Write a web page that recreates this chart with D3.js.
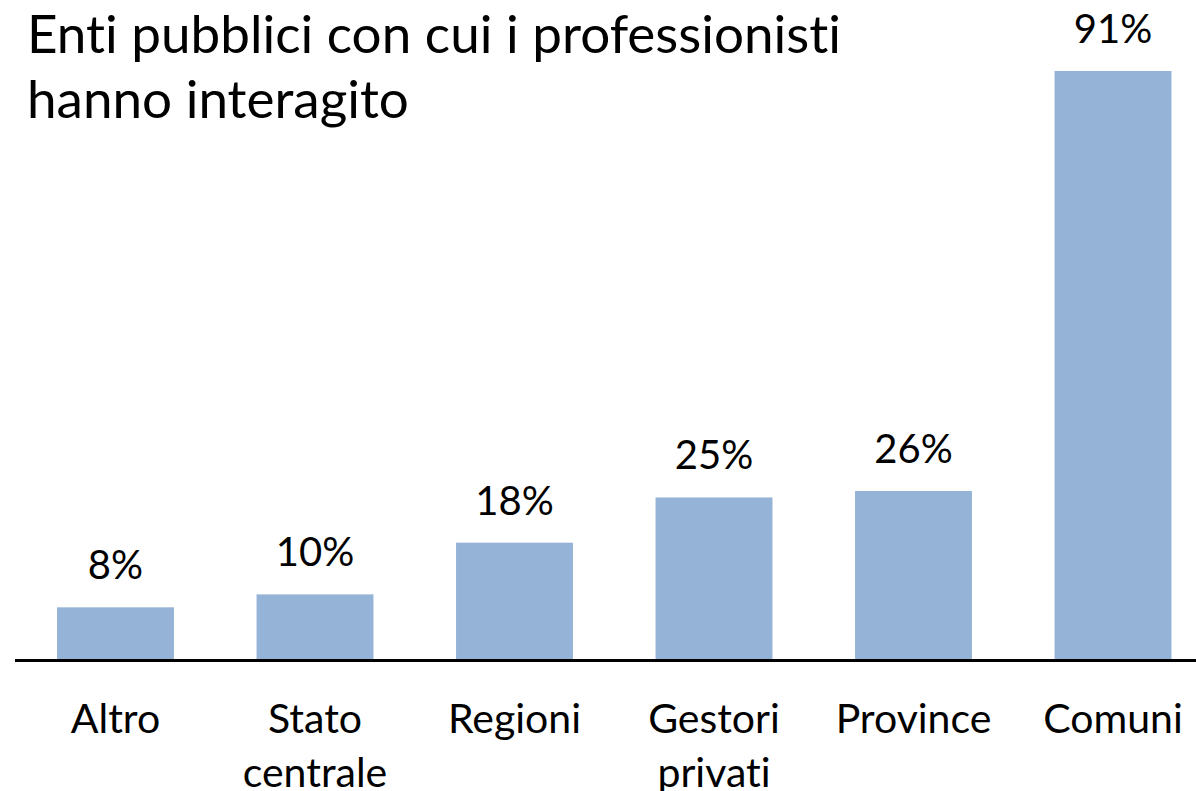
<!DOCTYPE html>
<html>
<head>
<meta charset="utf-8">
<script src="https://cdn.jsdelivr.net/npm/d3@7"></script>
<style>
  html, body { margin: 0; padding: 0; background: #fff; }
  svg { display: block; font-family: Lato, "Open Sans", sans-serif; font-variant-ligatures: none; }
</style>
</head>
<body>
<div id="chart"></div>
<script>
// Dati
const categorie = ['Altro', 'Stato centrale', 'Regioni', 'Gestori privati', 'Province', 'Comuni'];
const etichette = [['Altro'], ['Stato', 'centrale'], ['Regioni'], ['Gestori', 'privati'], ['Province'], ['Comuni']];
const valori = [8, 10, 18, 25, 26, 91];
const titolo = ['Enti pubblici con cui i professionisti', 'hanno interagito'];

const width = 1196;
const height = 791;
const baseline = 659;

const svg = d3.select('#chart')
  .append('svg')
  .attr('width', width)
  .attr('height', height);

const x = d3.scaleBand()
  .domain(categorie)
  .range([15.75, 1212.75])
  .paddingInner(0.414)
  .paddingOuter(0.207);

const y = d3.scaleLinear()
  .domain([0, 91])
  .range([baseline, 71]);

// barre
svg.selectAll('.bar')
  .data(valori)
  .enter()
  .append('rect')
  .attr('class', 'bar')
  .attr('x', (d, i) => x(categorie[i]))
  .attr('y', d => y(d))
  .attr('width', x.bandwidth())
  .attr('height', d => baseline - y(d))
  .attr('fill', '#95b3d7');

// etichette dei valori
svg.selectAll('.val')
  .data(valori)
  .enter()
  .append('text')
  .attr('class', 'val')
  .attr('x', (d, i) => x(categorie[i]) + x.bandwidth() / 2)
  .attr('y', d => y(d) - 28)
  .attr('text-anchor', 'middle')
  .attr('font-size', 40)
  .attr('fill', '#000')
  .text(d => d + '%');

// asse orizzontale
svg.append('line')
  .attr('x1', 15)
  .attr('x2', width)
  .attr('y1', baseline + 1.5)
  .attr('y2', baseline + 1.5)
  .attr('stroke', '#000')
  .attr('stroke-width', 3);

// categorie
const cat = svg.selectAll('.cat')
  .data(etichette)
  .enter()
  .append('text')
  .attr('class', 'cat')
  .attr('text-anchor', 'middle')
  .attr('font-size', 41)
  .attr('fill', '#000')
  .attr('x', (d, i) => x(categorie[i]) + x.bandwidth() / 2)
  .attr('y', 733);

cat.selectAll('tspan')
  .data(d => d)
  .enter()
  .append('tspan')
  .attr('x', function () { return d3.select(this.parentNode).attr('x'); })
  .attr('dy', (d, i) => i === 0 ? 0 : 54)
  .text(d => d);

// titolo
svg.append('text')
  .attr('x', 27)
  .attr('y', 53)
  .attr('font-size', 53)
  .attr('fill', '#000')
  .selectAll('tspan')
  .data(titolo)
  .enter()
  .append('tspan')
  .attr('x', 27)
  .attr('dy', (d, i) => i === 0 ? 0 : 65)
  .text(d => d);
</script>
</body>
</html>
